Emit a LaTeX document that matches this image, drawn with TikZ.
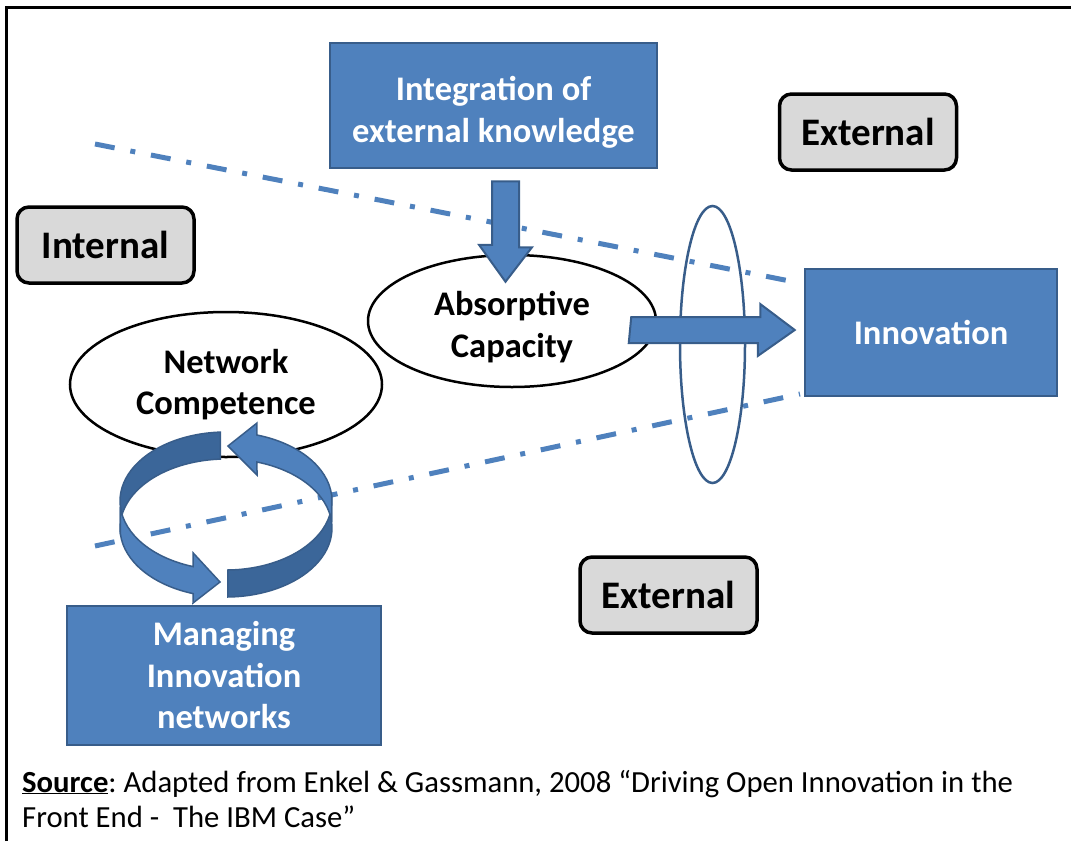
\documentclass[tikz,border=0pt]{standalone}
\usepackage{fontspec}
\setmainfont{Carlito}
\usetikzlibrary{shapes.geometric,calc}
\frenchspacing

\definecolor{boxblue}{HTML}{4F81BD}
\definecolor{boxedge}{HTML}{385D8A}
\definecolor{ringshade}{HTML}{3B6699}
\definecolor{tagfill}{HTML}{D9D9D9}

\begin{document}
\begin{tikzpicture}[x=1pt,y=-1pt,
  bluebox/.style={draw=boxedge,line width=2.5pt,fill=boxblue,text=white,font=\bfseries\fontsize{34.5}{41.5}\selectfont,align=center,inner sep=0pt},
  tagbox/.style={draw=black,line width=3.5pt,fill=tagfill,rounded corners=12pt,font=\bfseries\fontsize{39}{46}\selectfont,minimum width=177pt,minimum height=76pt,inner sep=0pt},
  bubble/.style={ellipse,draw=black,line width=2.5pt,fill=white,font=\bfseries\fontsize{34.5}{41.5}\selectfont,align=center,inner sep=0pt},
  boundary/.style={boxblue,line width=5pt,dash pattern=on 20pt off 16pt on 5pt off 16pt},
  fatarrow/.style={draw=boxedge,line width=2pt,fill=boxblue},
  ringdark/.style={draw=boxedge,line width=1.5pt,fill=ringshade},
  ringlight/.style={draw=boxedge,line width=1.5pt,fill=boxblue}]
\useasboundingbox (0,0) rectangle (1071,841);

% Frame
\draw[line width=3pt] (6,841) -- (6,7) -- (1071,7);

% Internal / external boundary
\draw[boundary] (95,144) -- (800,283);
\draw[boundary] (95,546) -- (800,394);
\node[ellipse,draw=boxedge,line width=2.5pt,minimum width=65pt,minimum height=277pt,inner sep=0pt] (lens) at (712.5,344.5) {};

% Boxes
\node[bluebox,minimum width=327pt,minimum height=125pt] (integ) at (493.5,105.5) {\rule{0pt}{38pt}Integration of\\external knowledge};
\node[bluebox,minimum width=252pt,minimum height=127pt] (innov) at (931,332.5) {Innovation};
\node[bluebox,minimum width=314pt,minimum height=139pt] (manage) at (224,675.5) {Managing\\Innovation\\networks};
\node[tagbox] (internal) at (105.5,245) {Internal};
\node[tagbox] (exttop) at (868,132) {External};
\node[tagbox] (extbot) at (668.5,595) {External};

% Capabilities
\node[bubble,minimum width=312pt,minimum height=145pt] (netcomp) at (226,384.5) {Network\\Competence};
\node[bubble,minimum width=288pt,minimum height=132pt] (absorb) at (512,321) {\rule{0pt}{36pt}Absorptive\\Capacity};

% Cycle between network competence and managing networks
\coordinate (rt) at (226,501);
\coordinate (rb) at (226,528);
\draw[ringdark] ($(rt)+(267:106 and 69)$) arc[start angle=267,end angle=175,x radius=106,y radius=69]
  -- ($(rb)+(175:106 and 69)$) arc[start angle=175,end angle=267,x radius=106,y radius=69] -- cycle;
\draw[ringlight] ($(rt)+(175:106 and 69)$) arc[start angle=175,end angle=108,x radius=106,y radius=69]
  -- ++(0,-13.6) -- (220,582) -- (193,603) -- ($(rb)+(108:106 and 69)$)
  arc[start angle=108,end angle=175,x radius=106,y radius=69] -- cycle;
\draw[ringdark] ($(rt)+(89:106 and 69)$) arc[start angle=89,end angle=-5,x radius=106,y radius=69]
  -- ($(rb)+(-5:106 and 69)$) arc[start angle=-5,end angle=89,x radius=106,y radius=69] -- cycle;
\draw[ringlight] ($(rt)+(-5:106 and 69)$) arc[start angle=-5,end angle=-73,x radius=106,y radius=69]
  -- ++(0,-12) -- (228,446) -- (257,475) -- ($(rb)+(-73:106 and 69)$)
  arc[start angle=-73,end angle=-5,x radius=106,y radius=69] -- cycle;

% Block arrows
\draw[fatarrow] ($(integ.south)+(-1.5,12)$) -- ++(27,0) -- ++(0,66) -- ++(13,0)
  -- ($(absorb.north)+(-6.5,28)$) -- ++(-26.5,-37) -- ++(13,0) -- cycle;
\draw[fatarrow] ($(absorb.east)+(-26,-4)$) -- ++(129,0) -- ++(0,-13)
  -- ($(innov.west)+(-9,-2.5)$) -- ++(-37,26) -- ++(0,-13) -- ++(-129,0) -- cycle;

% Source
\node[anchor=base west,align=left,inner sep=0pt,font=\fontsize{30.7}{35}\selectfont] (src) at (22,827)
  {\underline{\textbf{Source}}: Adapted from Enkel \& Gassmann, 2008 “Driving Open Innovation in the\\Front End -~ The IBM Case”};
\end{tikzpicture}
\end{document}
